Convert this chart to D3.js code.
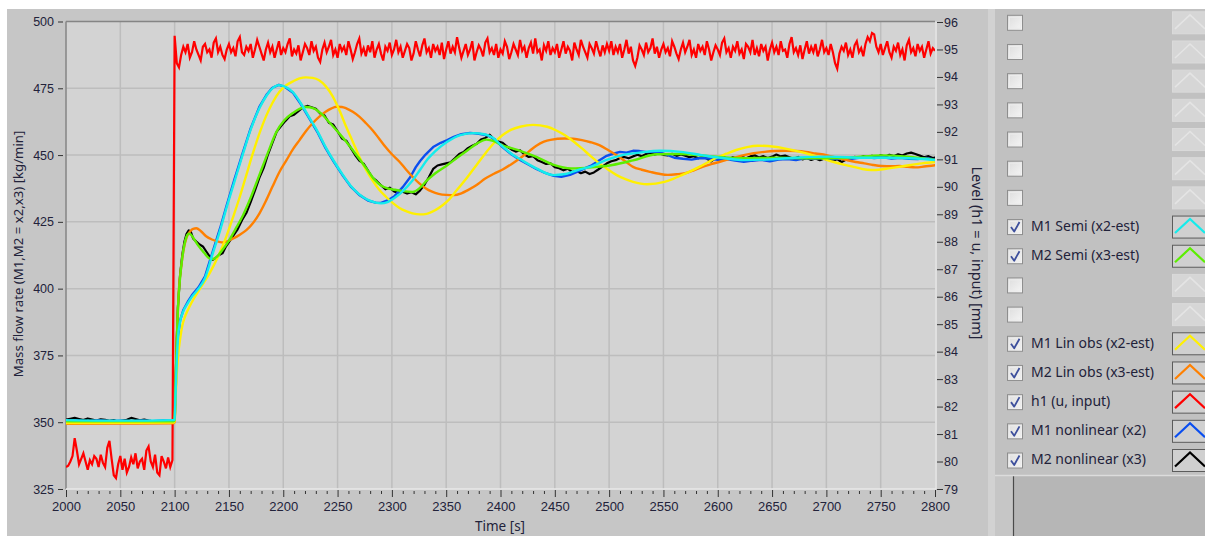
<!DOCTYPE html>
<html>
<head>
<meta charset="utf-8">
<script src="https://cdn.jsdelivr.net/npm/d3@7"></script>
<style>
  html, body { margin: 0; padding: 0; background: #ffffff; }
  svg { display: block; font-family: "Noto Sans", "DejaVu Sans", sans-serif; }
  .axis text { fill: #22223a; font-size: 12.5px; }
  .axis.time text { font-size: 13px; }
  .axis line { stroke: #333; stroke-width: 1; }
  .axis path.domain { display: none; }
</style>
</head>
<body>
<svg id="chart" width="1205" height="536"></svg>
<script>
// ---- axis ticks ----
const timeTicks = [2000, 2050, 2100, 2150, 2200, 2250, 2300, 2350, 2400, 2450, 2500, 2550, 2600, 2650, 2700, 2750, 2800];
const flowTicks = [325, 350, 375, 400, 425, 450, 475, 500];
const levelTicks = [79, 80, 81, 82, 83, 84, 85, 86, 87, 88, 89, 90, 91, 92, 93, 94, 95, 96];

// ---- legend ----
const legendLabels = ["", "", "", "", "", "", "", "M1 Semi (x2-est)", "M2 Semi (x3-est)", "", "",
  "M1 Lin obs (x2-est)", "M2 Lin obs (x3-est)", "h1 (u, input)", "M1 nonlinear (x2)", "M2 nonlinear (x3)"];
const legendColors = [null, null, null, null, null, null, null, "#14ecec", "#5cee00", null, null,
  "#fff000", "#ff8000", "#ff0000", "#0a4ef0", "#000000"];

// ---- series: [time s, mass flow kg/min] ----
const m1Semi = [[2000,350.8],[2050,350.6],[2099,350.8],[2100,351],[2101,362],[2102,373],[2103,381],[2105,387.5],[2108,391.5],[2112,394.5],[2116,397],[2122,400],[2128,404],[2135,413],[2142,422],[2148,430.6],[2155,440],[2163,450.6],[2170,459.5],[2178,467.5],[2185,472.5],[2190,475],[2196,476.2],[2202,475.5],[2209,473.5],[2216,469.5],[2224,464],[2232,458.5],[2239,453],[2247,447.5],[2255,442.5],[2262,438.5],[2270,435.3],[2278,433.2],[2285,432.2],[2290,431.9],[2296,432.4],[2302,433.8],[2310,436.5],[2319,440.5],[2326,444.5],[2333,448.5],[2340,451.5],[2351,455],[2363,457.5],[2375,458.2],[2385,457.8],[2393,456.5],[2401,453.5],[2410,450.5],[2418,448.5],[2433,445],[2449,442.5],[2458,442.8],[2471,444.4],[2484,445.8],[2497,448.1],[2512,450],[2528,450.9],[2547,451.6],[2566,451.2],[2585,450],[2608,448.7],[2624,448.1],[2649,448.4],[2671,449],[2703,449.4],[2735,449],[2757,449],[2782,448.7],[2800,448.1]];

const m2Semi = [[2000,350.3],[2099,350.3],[2100,351],[2101,366],[2102,380],[2103,392],[2105,404],[2107,411.5],[2109,416.5],[2111,419.5],[2113,420.6],[2115,420.2],[2118,418.5],[2122,416],[2127,413.5],[2132,411.3],[2135,411],[2139,412],[2144,414.5],[2150,418],[2157,423],[2163,427.5],[2170,434],[2178,442.5],[2186,451],[2193.5,458.5],[2201,463],[2209,465.8],[2215,467.3],[2221,468],[2228,467.5],[2235,465.5],[2243,462],[2250,458.8],[2258,455],[2266,450.8],[2276,445.3],[2284,440.8],[2290,438.6],[2296,437.5],[2303,437],[2310,436.5],[2319,436.2],[2326,437.8],[2332,440.4],[2340,443.2],[2351,446.2],[2360,449],[2370,451.9],[2378,454.2],[2387,455.8],[2394,455.2],[2401,453.7],[2410,452.6],[2418,451.6],[2433,449.3],[2449,446.3],[2465,445],[2484,445.4],[2503,446.3],[2522,448],[2544,450.3],[2566,450.4],[2592,449.6],[2624,448.8],[2655,449],[2687,448.8],[2719,449],[2751,449.9],[2775,449.4],[2800,448.2]];

const m1LinObs = [[2000,349.7],[2050,349.8],[2099,349.9],[2100,350],[2101,360],[2102,368],[2103,374],[2105,381],[2107,386],[2110,390],[2114,393.5],[2118,396.5],[2125,401],[2132,405.6],[2140,412],[2147.5,419.4],[2154,427],[2160,434.4],[2166,442.5],[2172,450.6],[2178,458],[2184,464.4],[2190,469.5],[2196.5,473.7],[2203,476.2],[2209,477.6],[2215,478.7],[2221,479.1],[2227,478.9],[2233,478],[2239,475.8],[2245.5,472],[2252,466.5],[2258,460.5],[2264,455],[2270,449.4],[2276,444.6],[2282,440.6],[2288,437.2],[2294.5,434.4],[2301,432],[2307,430.2],[2313,429],[2319,428.2],[2326,427.8],[2332,428],[2340,429.4],[2347,431.3],[2353,433.5],[2360,437],[2370,442],[2378,446.3],[2386,450.6],[2394,454.5],[2402,457.5],[2410,459.5],[2418,460.6],[2430,461.3],[2443,460.6],[2451,459.3],[2459,457.5],[2467,455.2],[2475,452.5],[2483,449.6],[2491,446.9],[2499,444.6],[2507,442.5],[2515,441],[2522,440],[2535,439.1],[2551,440],[2559,441.1],[2567,442.5],[2575,444],[2583,445.6],[2591,447.3],[2598,448.8],[2608,450.5],[2617,451.9],[2627,453],[2637,453.5],[2652,453.1],[2660,452.6],[2668,451.9],[2678,451],[2687,450],[2697,448.7],[2706,447.5],[2716,446.4],[2725,445.6],[2733,444.8],[2741,444.4],[2750,444.6],[2757,445],[2767,445.6],[2776,446.2],[2788,446.9],[2800,447.4]];

const m2LinObs = [[2000,349.4],[2050,349.5],[2099,349.6],[2100,350],[2101,366],[2102,381],[2103,392],[2104,400],[2106,408],[2108,414],[2111,419.2],[2114,421.3],[2117,422.4],[2120,422.6],[2124,421.6],[2129,419.6],[2135,418.3],[2141,417.5],[2145,417.3],[2150,418],[2154,418.8],[2160,420.2],[2166,421.9],[2172,424.5],[2178,428.1],[2184,432.8],[2190,438.1],[2196,443.3],[2203,448.1],[2209,452.2],[2215,455.6],[2221,459],[2227,461.9],[2233,464.3],[2239,466.2],[2244,467.4],[2249,468.1],[2254,468],[2258,467.5],[2264,466.2],[2270,464.4],[2276,462],[2282,459.4],[2288,456.3],[2294,453.1],[2300,450.3],[2307,447.5],[2313,444.6],[2319,441.9],[2325,439.5],[2331,437.6],[2337,436.3],[2343,435.5],[2350,435.1],[2357,435],[2364,435.7],[2370,436.9],[2378,438.8],[2386,441.2],[2394,443],[2402,444.6],[2410,446.6],[2418,448.8],[2426,451.3],[2433,453.5],[2440,455],[2446,455.7],[2459,456.2],[2467,456.1],[2475,455.6],[2483,454.8],[2491,453.7],[2499,451.9],[2507,449.9],[2515,447.6],[2522,445.6],[2530,444.5],[2538,443.7],[2546,443],[2554,442.6],[2562,442.8],[2570,443.2],[2578,444.3],[2586,445.6],[2594,446.6],[2602,447.5],[2613,448.8],[2624,450],[2633,450.7],[2643,451.2],[2652,451.5],[2662,451.6],[2672,451.5],[2681,451.2],[2690,450.6],[2700,450],[2710,449],[2719,448.1],[2727,447.4],[2735,446.9],[2743,446.3],[2751,445.9],[2760,445.8],[2767,445.9],[2775,445.6],[2782,445.4],[2790,445.7],[2800,446.2]];

const m1Nonlinear = [[2000,350.4],[2010,350.6],[2020,350.3],[2030,350.7],[2040,350.4],[2050,350.6],[2060,350.3],[2070,350.6],[2080,350.4],[2090,350.7],[2099,350.5],[2100,351],[2101,362.5],[2102,373.5],[2103,381.5],[2105,388],[2108,392],[2112,395],[2116,397.6],[2122,400.5],[2128,404.6],[2135,413.8],[2142,422.8],[2148,431.3],[2155,440.8],[2163,451.2],[2170,460],[2178,468],[2185,472.8],[2190,475.2],[2196,476.3],[2202,475.4],[2209,473.3],[2216,469.2],[2224,463.7],[2232,458.2],[2239,452.6],[2247,447.2],[2255,442.2],[2262,438.3],[2270,435.1],[2278,433],[2285,432.2],[2290,432.1],[2296,433],[2302,434.5],[2310,438],[2317,441.8],[2322,445.5],[2326,447.8],[2331,450.2],[2338,453],[2345,454.6],[2351,455.6],[2357,456.8],[2364,457.8],[2372,458.3],[2380,458],[2388,457.4],[2395,455.8],[2401,453.3],[2410,450.3],[2418,448.2],[2426,446.4],[2433,444.8],[2441,443.3],[2449,442.2],[2456,441.9],[2464,442.6],[2471,443.8],[2478,445.1],[2484,446.2],[2490,447.8],[2497,449.6],[2503,450.4],[2510,451.2],[2516,450.9],[2522,451.6],[2528,451.5],[2535,451.1],[2541,451.3],[2548,450.8],[2554,450],[2560,449],[2568,448.6],[2576,448.3],[2584,448.9],[2592,448.7],[2600,448.2],[2608,448.5],[2616,447.9],[2624,447.5],[2632,447.9],[2640,448.2],[2648,447.7],[2656,448.3],[2664,448.5],[2672,448.1],[2680,448.8],[2688,448.6],[2696,448.9],[2704,448.4],[2712,448.7],[2720,448.4],[2728,448.9],[2736,449.3],[2744,448.9],[2752,449.2],[2760,448.7],[2768,449],[2776,448.6],[2784,448.5],[2792,448.9],[2800,448.3]];

const m2Nonlinear = [[2000,351],[2004,351.3],[2008,351.6],[2012,351.2],[2016,350.8],[2020,351.4],[2024,351],[2028,350.6],[2032,351.1],[2036,350.9],[2040,350.5],[2044,350.8],[2048,350.2],[2052,350.6],[2056,350.9],[2060,351.6],[2064,351.2],[2068,350.7],[2072,351],[2076,350.6],[2080,350.3],[2084,349.8],[2088,349.9],[2092,350.1],[2096,349.9],[2099,350.2],
  [2100,351],[2101,367],[2102,381],[2103,393],[2105,405],[2107,412.5],[2109,417.5],[2111,420.5],[2113,421.8],[2115,421.2],[2117,418.8],[2120,417.6],[2123,416.5],[2126,415.8],[2129,414],[2132,412.2],[2135,410.8],[2138,411.5],[2141,412.6],[2144,413.2],[2147,415.6],[2150,417.4],[2154,419.8],[2158,422.2],[2162,425.6],[2166,428.3],[2170,432.4],[2174,436.8],[2178,441.5],[2182,445.2],[2186,450.3],[2190,454.6],[2194,458.8],[2198,460.9],[2202,462.8],[2206,464.5],[2210,465.1],[2214,466.4],[2218,467.8],[2222,468.4],[2226,467.9],[2230,467.3],[2234,465.6],[2238,464.8],[2242,462.1],[2246,461.4],[2250,458.9],[2254,456.2],[2258,455.4],[2262,452.8],[2266,450.1],[2270,447.9],[2274,446.8],[2278,444.2],[2282,441.6],[2286,440.3],[2290,438.7],[2294,437.2],[2298,437.8],[2302,436.4],[2306,435.8],[2310,436.3],[2314,435.6],[2318,436.1],[2322,435.3],[2326,436.8],[2330,438.9],[2334,441.7],[2338,444.8],[2342,446.1],[2346,446.5],[2350,446.9],[2354,447.3],[2358,448.8],[2362,450.4],[2366,451.1],[2370,452.6],[2374,453.5],[2378,454.2],[2382,455.8],[2386,456.4],[2390,457.6],[2394,455.9],[2398,455.1],[2402,454.6],[2406,453.2],[2410,452.1],[2414,451.3],[2418,451.8],[2422,450.2],[2426,449.3],[2430,449.6],[2434,448.1],[2438,447.4],[2442,446.7],[2446,446.9],[2450,445.5],[2454,445.1],[2458,444.3],[2462,444.9],[2466,443.6],[2470,444.1],[2474,443.2],[2478,443.8],[2482,442.9],[2486,443.5],[2490,444.6],[2494,445.8],[2498,446.9],[2502,447.7],[2506,448.1],[2510,448.9],[2514,449.3],[2518,448.8],[2522,449.5],[2526,450.1],[2530,449.6],[2534,450.4],[2538,450.8],[2542,450.2],[2546,450.6],[2550,450.1],[2554,449.9],[2558,450.5],[2562,449.7],[2566,450.2],[2570,449.8],[2574,449.2],[2578,449.6],[2582,448.8],[2586,449.3],[2590,448.7],[2594,447.6],[2598,448.9],[2602,448.4],[2606,449.1],[2610,448.6],[2614,449.2],[2618,448.7],[2622,449.4],[2626,448.8],[2630,449.5],[2634,449.9],[2638,449.1],[2642,449.6],[2646,448.9],[2650,449.4],[2654,450.2],[2658,449.5],[2662,449.8],[2666,449.2],[2670,448.6],[2674,449.3],[2678,448.4],[2682,448.9],[2686,448.2],[2690,448.7],[2694,448.1],[2698,448.6],[2702,448.3],[2706,447.8],[2710,448.5],[2714,447.4],[2718,448.2],[2722,448.8],[2726,449.3],[2730,448.9],[2734,449.6],[2738,449.1],[2742,449.7],[2746,449.2],[2750,449.9],[2754,449.4],[2758,450.1],[2762,449.6],[2766,450.3],[2770,449.8],[2774,450.6],[2778,450.9],[2782,450.4],[2786,449.8],[2790,449.2],[2794,449.6],[2798,448.9],[2800,449.1]];

// ---- h1 level input [mm], sampled every 2 s ----
const h1SampleStep = 2;
const h1Before = [79.8, 79.85, 80.0, 80.2, 80.85, 80.4, 79.9, 80.1, 80.3, 80.0, 79.7, 80.05, 79.9, 80.2, 80.1, 79.8, 80.25, 79.95, 79.8, 80.5,
  80.75, 80.1, 79.5, 79.4, 79.9, 80.2, 79.7, 80.1, 79.6, 79.8, 80.15, 79.9, 80.3, 79.75, 80.0, 80.1, 79.7, 80.4, 80.55, 80.0,
  79.8, 80.25, 79.6, 79.5, 80.2, 80.0, 79.75, 80.15, 79.8, 80.05];
const h1After = [
  95.5, 94.5, 94.35, 94.8, 95.1, 94.9, 95.2, 94.7, 94.9, 95.3, 95.0, 94.8, 94.6, 95.1, 95.2, 94.9, 95.0, 94.7, 95.25, 95.4, 94.9, 95.1, 94.8, 94.65, 95.0,
  95.2, 94.9, 95.05, 94.75, 95.3, 95.45, 94.9, 94.8, 95.1, 94.95, 95.2, 94.7, 95.0, 95.35, 95.1, 94.85, 94.6, 95.0, 95.25, 94.9, 95.1, 94.7, 95.0, 95.3, 94.8,
  95.05, 94.9, 95.2, 95.4, 94.75, 95.0, 94.85, 95.15, 94.6, 94.9, 95.2, 95.05, 94.8, 95.3, 94.95, 95.1, 94.7, 94.55, 95.0, 95.25, 94.9, 95.1, 95.35, 94.8, 95.0,
  94.7, 95.2, 94.95, 95.1, 94.8, 95.3, 95.0, 94.65, 94.9, 95.2, 95.4, 94.85, 95.05, 94.75, 95.15, 94.9, 95.3, 94.7, 95.0, 95.2, 94.85, 94.6, 95.1, 94.95, 95.25,
  94.8, 95.0, 95.35, 94.9, 95.1, 94.7, 94.95, 95.2, 95.05, 94.6, 94.85, 95.3, 95.0, 94.75, 95.15, 95.4, 94.9, 95.05, 94.7, 95.2, 94.95, 95.1, 94.8, 95.25, 94.65,
  95.0, 95.3, 94.85, 95.1, 94.9, 95.45, 95.05, 94.7, 94.95, 95.2, 94.8, 95.0, 95.3, 94.6, 94.9, 95.15, 95.0, 94.75, 95.25, 95.4, 94.9, 95.05, 94.8, 95.2, 94.7,
  95.0, 94.85, 95.3, 95.1, 94.65, 94.9, 95.2, 95.0, 94.8, 95.35, 94.95, 95.1, 94.7, 95.05, 95.25, 94.85, 95.4, 94.9, 95.0, 94.6, 95.15, 94.95, 95.3, 94.8, 95.05,
  94.9, 95.2, 94.7, 95.0, 95.3, 94.85, 95.1, 94.95, 94.6, 95.25, 95.0, 94.8, 95.35, 95.1, 94.9, 94.7, 95.2, 95.05, 94.85, 95.3, 95.0, 94.75, 95.15, 94.9, 95.2,
  94.95, 95.3, 94.8, 95.1, 94.9, 95.2, 94.7, 95.0, 95.35, 94.85, 95.1, 94.6, 94.4, 94.7, 95.15, 95.0, 94.8, 95.25, 94.9, 95.05, 95.4, 94.85, 95.1, 94.7, 95.0,
  95.2, 94.9, 95.05, 94.75, 95.3, 95.1, 94.85, 94.65, 95.0, 95.25, 94.9, 95.1, 95.35, 94.8, 95.0, 94.7, 95.2, 94.95, 95.1, 94.8, 95.3, 95.0, 94.6, 94.9, 95.15,
  95.0, 94.8, 95.25, 95.4, 94.9, 95.05, 94.7, 95.1, 94.95, 95.3, 94.85, 95.0, 94.65, 95.2, 95.1, 94.9, 95.35, 94.8, 95.05, 94.75, 95.2, 94.95, 95.1, 94.6, 95.0,
  95.25, 94.9, 95.1, 94.8, 95.3, 94.95, 95.0, 94.7, 95.2, 95.45, 94.9, 95.05, 94.8, 95.15, 94.65, 95.0, 95.3, 94.85, 95.1, 94.9, 95.2, 94.75, 95.0, 95.35, 94.9,
  95.05, 94.8, 95.2, 94.9, 94.5, 94.3, 94.85, 95.1, 94.95, 95.25, 94.8, 95.0, 94.7, 95.15, 95.3, 94.9, 95.05, 94.75, 95.2, 95.45, 95.3, 95.6, 95.55, 95.1, 94.9,
  95.2, 94.8, 95.05, 95.3, 94.9, 94.7, 95.1, 94.95, 95.25, 94.8, 95.0, 94.6, 95.15, 95.35, 94.9, 95.05, 94.75, 95.2, 94.95, 95.1, 94.7, 95.0, 95.3, 94.85, 95.05,
  94.95];

// ---- layout ----
const svg = d3.select("#chart");
const plot = { left: 66, right: 935, top: 21.5, bottom: 489 };

const x = d3.scaleLinear().domain([2000, 2800]).range([plot.left, plot.right]);
const yFlow = d3.scaleLinear().domain([325, 500]).range([plot.bottom, plot.top]);
const yLevel = d3.scaleLinear().domain([79, 96]).range([plot.bottom, 22]);

// panel backgrounds
svg.append("rect").attr("x", 7).attr("y", 9).attr("width", 1198).attr("height", 527).attr("fill", "#c6c6c6");
svg.append("rect").attr("x", 995).attr("y", 9).attr("width", 210).attr("height", 466).attr("fill", "#c1c1c1");
svg.append("rect").attr("x", 988).attr("y", 9).attr("width", 7).attr("height", 527).attr("fill", "#d2d2d2");
svg.append("rect").attr("x", 1013).attr("y", 476).attr("width", 192).attr("height", 60).attr("fill", "#b6b6b6");
svg.append("line").attr("x1", 1013.5).attr("x2", 1013.5).attr("y1", 476).attr("y2", 536).attr("stroke", "#4a4a4a").attr("stroke-width", 1.2);
svg.append("line").attr("x1", 995).attr("x2", 1205).attr("y1", 475.5).attr("y2", 475.5).attr("stroke", "#dcdcdc").attr("stroke-width", 1.5);

// plot area
svg.append("rect").attr("x", plot.left).attr("y", plot.top)
  .attr("width", plot.right - plot.left).attr("height", plot.bottom - plot.top).attr("fill", "#d3d3d3");

const defs = svg.append("defs");
defs.append("clipPath").attr("id", "plotClip").append("rect")
  .attr("x", plot.left).attr("y", plot.top).attr("width", plot.right - plot.left).attr("height", plot.bottom - plot.top);

// grid
const grid = svg.append("g").attr("stroke", "#bdbdbd").attr("stroke-width", 1.5);
grid.selectAll("line.v").data(timeTicks.slice(1, -1)).join("line")
  .attr("x1", d => x(d)).attr("x2", d => x(d)).attr("y1", plot.top).attr("y2", plot.bottom);
grid.selectAll("line.h").data(flowTicks.slice(1, -1)).join("line")
  .attr("x1", plot.left).attr("x2", plot.right).attr("y1", d => yFlow(d)).attr("y2", d => yFlow(d));

// sunken frame
svg.append("line").attr("x1", plot.left).attr("x2", plot.right).attr("y1", plot.top).attr("y2", plot.top).attr("stroke", "#858585").attr("stroke-width", 1.5);
svg.append("line").attr("x1", plot.left).attr("x2", plot.left).attr("y1", plot.top).attr("y2", plot.bottom).attr("stroke", "#858585").attr("stroke-width", 1.5);
svg.append("line").attr("x1", plot.left).attr("x2", plot.right + 1).attr("y1", plot.bottom).attr("y2", plot.bottom).attr("stroke", "#e8e8e8").attr("stroke-width", 1.5);
svg.append("line").attr("x1", plot.right + 1).attr("x2", plot.right + 1).attr("y1", plot.top).attr("y2", plot.bottom).attr("stroke", "#e8e8e8").attr("stroke-width", 1.5);

// curves
const series = svg.append("g").attr("clip-path", "url(#plotClip)").attr("fill", "none")
  .attr("stroke-linejoin", "round").attr("stroke-linecap", "round");
const smooth = d3.line().x(d => x(d[0])).y(d => yFlow(d[1])).curve(d3.curveMonotoneX);
const jagged = d3.line().x(d => x(d[0])).y(d => yFlow(d[1])).curve(d3.curveLinear);

const h1Points = h1Before.map((v, i) => [2000 + i * h1SampleStep, v])
  .concat(h1After.map((v, i) => [2100 + i * h1SampleStep, v]));
const levelLine = d3.line().x(d => x(d[0])).y(d => yLevel(d[1])).curve(d3.curveLinear);

series.append("path").attr("d", jagged(m2Nonlinear)).attr("stroke", legendColors[15]).attr("stroke-width", 2.2);
series.append("path").attr("d", jagged(m1Nonlinear)).attr("stroke", legendColors[14]).attr("stroke-width", 2.4);
series.append("path").attr("d", levelLine(h1Points)).attr("stroke", legendColors[13]).attr("stroke-width", 2.2)
  .attr("stroke-linejoin", "miter").attr("stroke-linecap", "butt");
series.append("path").attr("d", smooth(m2LinObs)).attr("stroke", legendColors[12]).attr("stroke-width", 2.4);
series.append("path").attr("d", smooth(m1LinObs)).attr("stroke", legendColors[11]).attr("stroke-width", 2.4);
series.append("path").attr("d", smooth(m2Semi)).attr("stroke", legendColors[8]).attr("stroke-width", 2.4);
series.append("path").attr("d", smooth(m1Semi)).attr("stroke", legendColors[7]).attr("stroke-width", 2.4);

// axes
svg.append("g").attr("class", "axis time").attr("transform", `translate(0,${plot.bottom + 1})`)
  .call(d3.axisBottom(x).tickValues(timeTicks).tickSize(7).tickPadding(5).tickFormat(d3.format("d")));
const minorTicks = d3.range(2000, 2801, 10).filter(t => t % 50 !== 0);
svg.append("g").attr("class", "axis").attr("transform", `translate(0,${plot.bottom + 2})`)
  .call(d3.axisBottom(x).tickValues(minorTicks).tickSize(3).tickFormat(""));

svg.append("g").attr("class", "axis").attr("transform", `translate(${plot.left - 3},0)`)
  .call(d3.axisLeft(yFlow).tickValues(flowTicks).tickSize(5).tickPadding(4));

svg.append("g").attr("class", "axis").attr("transform", `translate(${plot.right + 2},0)`)
  .call(d3.axisRight(yLevel).tickValues(levelTicks).tickSize(6).tickPadding(1));

// axis titles
svg.append("text").attr("transform", "translate(19.5,254) rotate(-90)")
  .attr("text-anchor", "middle").attr("dominant-baseline", "middle")
  .attr("fill", "#22223a").attr("font-size", "13.2px")
  .text("Mass flow rate (M1,M2 = x2,x3) [kg/min]");
svg.append("text").attr("transform", "translate(976,253) rotate(90)")
  .attr("text-anchor", "middle").attr("dominant-baseline", "middle")
  .attr("fill", "#22223a").attr("font-size", "14.5px")
  .text("Level (h1 = u, input) [mm]");
svg.append("text").attr("x", 500).attr("y", 530.5).attr("text-anchor", "middle")
  .attr("fill", "#22223a").attr("font-size", "13.5px").text("Time [s]");

// legend rows
const boxGrad = defs.append("linearGradient").attr("id", "boxGrad").attr("x1", 0).attr("y1", 0).attr("x2", 1).attr("y2", 1);
boxGrad.append("stop").attr("offset", "0%").attr("stop-color", "#dcdcdc");
boxGrad.append("stop").attr("offset", "100%").attr("stop-color", "#f6f6f6");

const rowY = i => 22.8 + i * 29.18;
const legend = svg.append("g");
legendLabels.forEach((label, i) => {
  const cy = rowY(i);
  const row = legend.append("g");
  const active = legendColors[i] !== null;
  row.append("rect").attr("x", 1007.5).attr("y", cy - 7.5).attr("width", 15).attr("height", 15)
    .attr("fill", "url(#boxGrad)").attr("stroke", "#8e8e8e").attr("stroke-width", 1);
  row.append("rect").attr("x", 1009.5).attr("y", cy - 5.5).attr("width", 11).attr("height", 11)
    .attr("fill", "none").attr("stroke", "#ececec").attr("stroke-width", 1);
  if (active) {
    row.append("polyline").attr("points", `${1011},${cy} ${1014.2},${cy + 4.5} ${1019.5},${cy - 5}`)
      .attr("fill", "none").attr("stroke", "#3d4f9c").attr("stroke-width", 1.8).attr("stroke-linejoin", "round");
    row.append("text").attr("x", 1031).attr("y", cy).attr("dominant-baseline", "middle")
      .attr("fill", "#22223a").attr("font-size", "14px").text(label);
    row.append("rect").attr("x", 1172.5).attr("y", cy - 11).attr("width", 40).attr("height", 22)
      .attr("fill", "#d0d0d0").attr("stroke", "#5c5c5c").attr("stroke-width", 1);
    row.append("polyline").attr("points", `1175,${cy + 6} 1190,${cy - 8} 1205,${cy + 6}`)
      .attr("fill", "none").attr("stroke", legendColors[i]).attr("stroke-width", 2.2);
  } else {
    row.append("rect").attr("x", 1172.5).attr("y", cy - 11).attr("width", 40).attr("height", 22)
      .attr("fill", "#d6d6d6").attr("stroke", "#dadada").attr("stroke-width", 1);
    row.append("polyline").attr("points", `1175,${cy + 6} 1190,${cy - 8} 1205,${cy + 6}`)
      .attr("fill", "none").attr("stroke", "#e4e4e4").attr("stroke-width", 1.6);
  }
});
</script>
</body>
</html>
